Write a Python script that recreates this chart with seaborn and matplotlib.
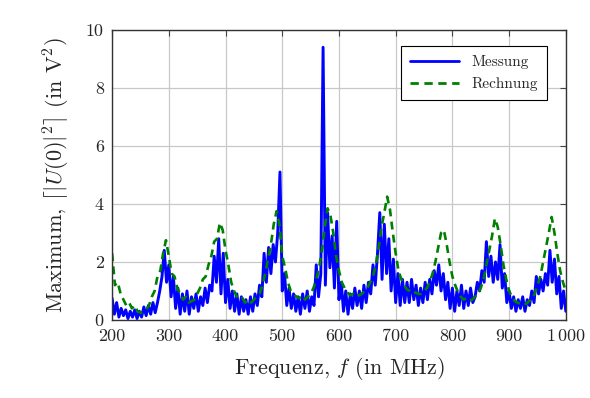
import numpy as np
import pandas as pd
import matplotlib
matplotlib.use("Agg")
import matplotlib.pyplot as plt
import seaborn as sns

# Messung: Werte alle 4 MHz (200 ... 1000)
freq_mess = np.arange(200, 1001, 4)
messung = [
    0.75, 0.2, 0.6, 0.1, 0.4, 0.15, 0.35, 0.05, 0.3, 0.1,   # 200-236
    0.35, 0.05, 0.3, 0.1, 0.45, 0.15, 0.5, 0.2, 0.6, 0.25,  # 240-276
    0.6, 1.0, 1.5, 2.4, 1.3, 1.9, 0.8, 1.5, 0.4, 1.1,       # 280-316
    0.2, 0.9, 0.3, 1.0, 0.2, 0.8, 0.4, 0.9, 0.3, 0.8,       # 320-356
    0.5, 1.1, 0.6, 1.2, 1.0, 2.2, 1.3, 2.8, 0.9, 2.3,       # 360-396
    0.6, 1.4, 0.4, 1.0, 0.3, 0.9, 0.2, 0.8, 0.3, 0.7,       # 400-436
    0.2, 0.8, 0.3, 0.9, 0.5, 1.2, 0.8, 2.3, 1.3, 2.5,       # 440-476
    1.6, 2.6, 2.0, 3.0, 5.1, 1.0, 1.6, 0.5, 1.1, 0.4,       # 480-516
    0.9, 0.3, 0.8, 0.2, 0.9, 0.4, 1.0, 0.3, 0.8, 0.5,       # 520-556
    1.9, 0.8, 1.6, 9.4, 1.2, 3.7, 1.8, 2.9, 1.1, 3.4,       # 560-596
    0.7, 1.3, 0.3, 1.0, 0.2, 0.9, 0.4, 1.1, 0.5, 1.0,       # 600-636
    0.4, 1.2, 0.6, 1.3, 0.9, 1.9, 1.2, 2.3, 3.7, 1.4,       # 640-676
    3.3, 1.6, 2.8, 1.0, 2.1, 0.6, 1.6, 0.5, 1.4, 0.6,       # 680-716
    1.3, 0.6, 1.4, 0.7, 1.2, 0.5, 1.1, 0.6, 1.3, 0.7,       # 720-756
    1.4, 0.9, 1.7, 1.2, 1.9, 1.0, 1.6, 0.7, 1.3, 0.4,       # 760-796
    1.1, 0.3, 1.0, 0.5, 1.2, 0.4, 1.0, 0.5, 1.1, 0.6,       # 800-836
    0.8, 1.3, 1.0, 1.7, 1.3, 2.7, 1.5, 2.2, 1.3, 2.0,       # 840-876
    1.4, 2.6, 1.1, 1.6, 0.6, 1.0, 0.4, 0.8, 0.3, 0.7,       # 880-916
    0.4, 0.8, 0.3, 0.7, 0.5, 1.0, 0.6, 1.5, 0.9, 1.4,       # 920-956
    1.0, 1.6, 1.2, 2.4, 1.3, 2.1, 0.9, 1.5, 0.4, 1.0,       # 960-996
    0.3,                                                    # 1000
]

# Rechnung: Werte alle 5 MHz (200 ... 1000)
freq_rech = np.arange(200, 1001, 5)
rechnung = [
    2.3, 1.2, 1.3, 0.9, 0.7, 0.5, 0.6, 0.4, 0.5, 0.3,       # 200-245
    0.25, 0.3, 0.35, 0.5, 0.8, 1.0, 1.5, 1.7, 2.3, 2.75,    # 250-295
    2.2, 1.6, 1.5, 1.1, 0.9, 0.7, 0.8, 0.6, 0.65, 0.7,      # 300-345
    0.9, 1.1, 1.4, 1.5, 1.9, 2.2, 2.7, 2.8, 3.35, 3.1,      # 350-395
    2.4, 1.9, 1.3, 1.0, 0.8, 0.7, 0.75, 0.6, 0.7, 0.6,      # 400-445
    0.7, 0.8, 0.9, 1.2, 1.6, 2.1, 2.6, 3.3, 3.75, 3.3,      # 450-495
    2.2, 1.8, 1.3, 1.0, 0.9, 0.8, 0.75, 0.85, 0.7, 0.8,     # 500-545
    0.9, 1.1, 1.4, 1.8, 2.4, 3.2, 3.85, 3.6, 3.0, 2.2,      # 550-595
    1.7, 1.3, 1.1, 0.95, 0.85, 0.9, 0.8, 0.85, 0.9, 1.0,    # 600-645
    1.1, 1.3, 1.5, 1.9, 2.5, 3.2, 3.7, 4.25, 3.8, 3.0,      # 650-695
    2.3, 1.7, 1.4, 1.2, 1.05, 1.0, 0.9, 0.95, 0.9, 0.9,     # 700-745
    1.0, 1.1, 1.3, 1.6, 2.0, 2.5, 3.0, 3.1, 2.6, 2.0,       # 750-795
    1.5, 1.2, 0.95, 0.8, 0.7, 0.75, 0.65, 0.7, 0.8, 0.9,    # 800-845
    1.1, 1.4, 1.9, 2.4, 2.9, 3.5, 3.2, 2.6, 1.9, 1.4,       # 850-895
    1.0, 0.8, 0.65, 0.6, 0.55, 0.6, 0.55, 0.65, 0.7, 0.9,   # 900-945
    1.2, 1.5, 2.0, 2.5, 3.0, 3.55, 3.0, 2.3, 1.7, 1.3,      # 950-995
    1.0,                                                    # 1000
]

x_ticks = [200, 300, 400, 500, 600, 700, 800, 900, 1000]
x_ticklabels = ["200", "300", "400", "500", "600", "700", "800", "900", r"$1\,000$"]
y_ticks = [0, 2, 4, 6, 8, 10]

df_mess = pd.DataFrame({"f": freq_mess, "U": messung})
df_rech = pd.DataFrame({"f": freq_rech, "U": rechnung})

sns.set_style("whitegrid")
plt.rcParams["font.family"] = "serif"
plt.rcParams["font.serif"] = ["cmr10"]
plt.rcParams["mathtext.fontset"] = "cm"
plt.rcParams["axes.unicode_minus"] = False

fig = plt.figure(figsize=(5.9, 3.98), dpi=100)
ax = fig.add_axes([0.190, 0.196, 0.769, 0.729])

sns.lineplot(data=df_mess, x="f", y="U", ax=ax, color="#0000ff", lw=2.1,
             label="Messung")
sns.lineplot(data=df_rech, x="f", y="U", ax=ax, color="#008000", lw=1.9,
             linestyle=(0, (3.0, 2.0)), label="Rechnung")

ax.set_xlim(200, 1000)
ax.set_ylim(0, 10)
ax.set_xticks(x_ticks)
ax.set_xticklabels(x_ticklabels)
ax.set_yticks(y_ticks)
ax.grid(True, color="#c8c8c8", lw=0.9)
ax.tick_params(direction="in", top=True, right=True, length=4, width=0.8,
               color="#444444", labelsize=13, pad=6)
for s in ax.spines.values():
    s.set_color("#333333")
    s.set_linewidth(1.0)

ax.set_xlabel(r"Frequenz, $f$ (in MHz)", fontsize=16, labelpad=8)
ax.set_ylabel(r"Maximum, $\left\lceil\left|U(0)\right|^2\right\rceil$ (in V$^2$)",
              fontsize=16, labelpad=10)

leg = ax.legend(loc="upper right", fontsize=11, frameon=True, fancybox=False,
                edgecolor="black", framealpha=1, borderpad=0.6,
                handlelength=3.2, bbox_to_anchor=(0.975, 0.97))
leg.get_frame().set_linewidth(0.8)
for h in leg.get_lines():
    h.set_linewidth(2.0)

fig.savefig("out.png", dpi=100)
